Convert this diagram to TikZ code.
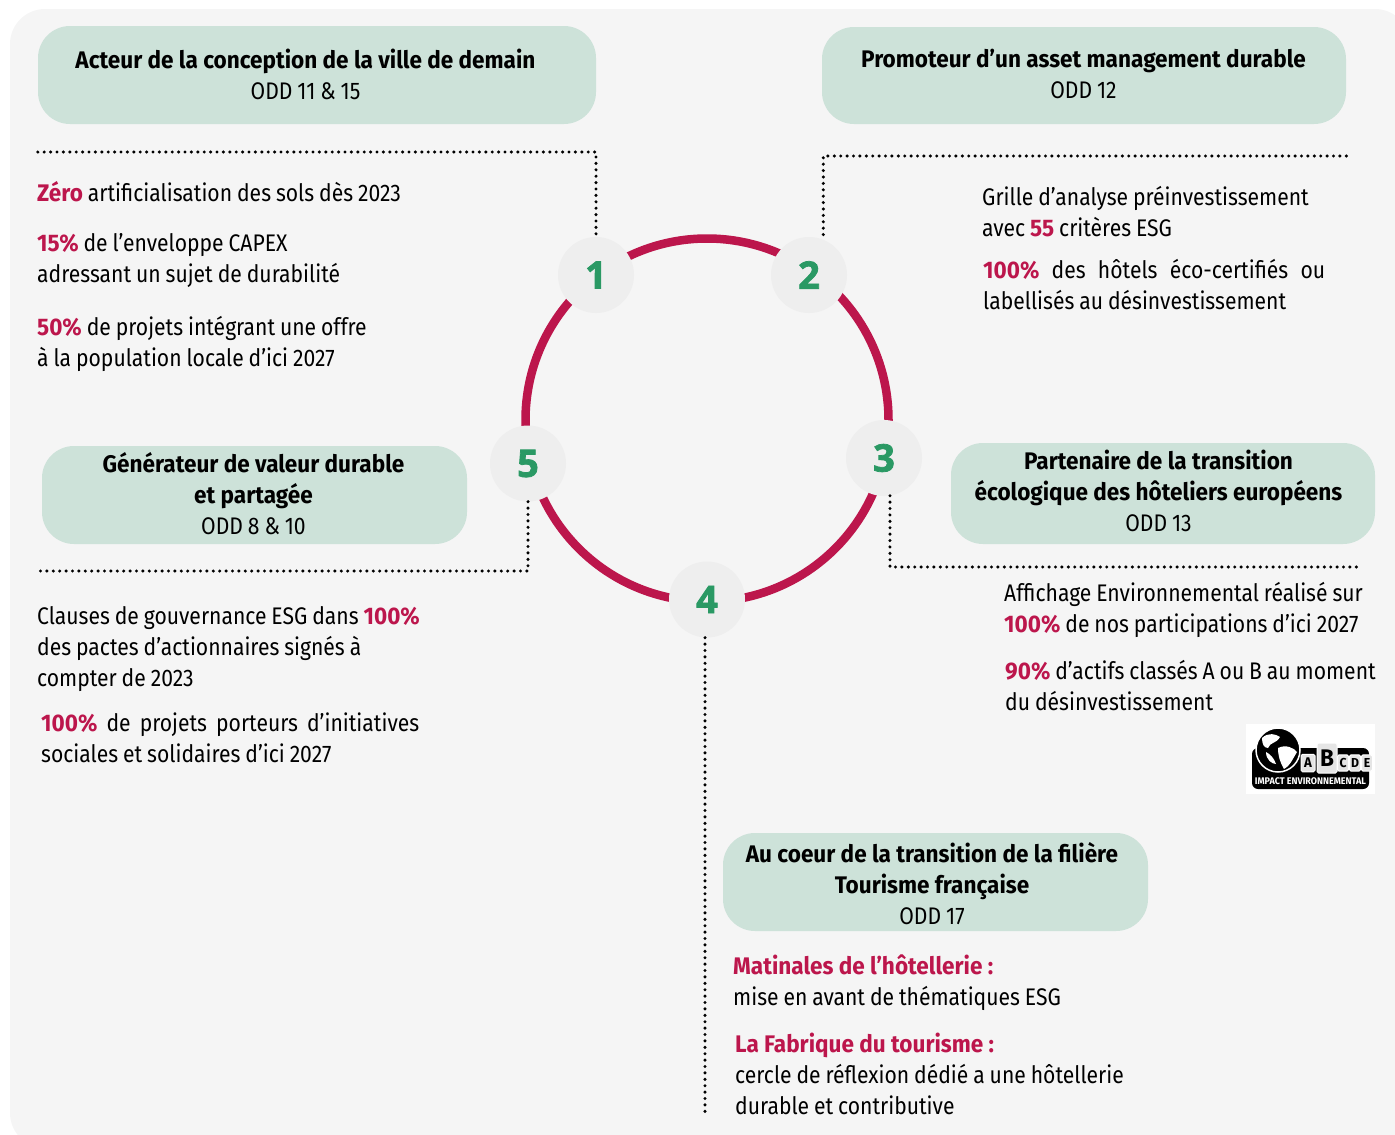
\documentclass[tikz,border=0pt]{standalone}
\usepackage{fontspec}
\setmainfont[FakeStretch=0.88,WordSpace=0.88,BoldFeatures={FakeStretch=0.94,WordSpace=1}]{Fira Sans}
\newfontfamily\numfont[BoldFeatures={FakeBold=2}]{Open Sans}
\definecolor{fondgris}{HTML}{F5F5F5}
\definecolor{vertpale}{HTML}{CDE2D9}
\definecolor{cramoisi}{HTML}{BC164C}
\definecolor{vertnum}{HTML}{2A9964}
\definecolor{grisrond}{HTML}{EEEEEE}
\newcommand{\rouge}[1]{\textcolor{cramoisi}{\textbf{#1}}}
\begin{document}
\begin{tikzpicture}[x=1pt,y=-1pt,
	titre/.style={fill=vertpale,rounded corners=32pt,inner sep=0pt},
	titretexte/.style={align=center,inner sep=0pt,font=\fontsize{24}{31}\selectfont},
	texte/.style={anchor=base west,align=left,inner sep=0pt,font=\fontsize{24}{31}\selectfont},
	rond/.style={circle,fill=grisrond,minimum size=76pt,inner sep=0pt,text=vertnum,font=\fontsize{38}{38}\numfont\bfseries},
	pointille/.style={line width=3.4pt,line cap=round,dash pattern=on 0pt off 6.4pt},
	anneau/.style={line width=8.5pt,color=cramoisi}]
	\useasboundingbox (0,0) rectangle (1395,1135);
	\fill[fondgris,rounded corners=35pt] (10,9) rectangle (1410,1148);
	\coordinate (centre) at (707,420);
	\draw[anneau] (centre) circle (181.5);
	\node[rond] (n1) at (596,275) {1};
	\node[rond] (n2) at (809,275) {2};
	\node[rond] (n3) at (884,458) {3};
	\node[rond] (n4) at (707,599.5) {4};
	\node[rond] (n5) at (528,463.5) {5};
	\node[titre,minimum width=558pt,minimum height=98pt] (t1) at (317,75) {};
	\node[titre,minimum width=524pt,minimum height=97pt] (t2) at (1084,75.5) {};
	\node[titre,minimum width=424pt,minimum height=101pt] (t3) at (1163,493.5) {};
	\node[titre,minimum width=425pt,minimum height=98pt] (t4) at (935.5,882) {};
	\node[titre,minimum width=425pt,minimum height=98pt] (t5) at (254.5,495) {};
	\node[titretexte] (tt1) at (305.5,74) {\textbf{Acteur de la conception de la ville de demain}\\ODD 11 \& 15};
	\node[titretexte] (tt2) at (1083.5,74) {\textbf{Promoteur d’un asset management durable}\\ODD 12};
	\node[titretexte] (tt3) at (1158.5,491) {\textbf{Partenaire de la transition}\\\textbf{écologique des hôteliers européens}\\ODD 13};
	\node[titretexte] (tt4) at (932,884) {\textbf{Au coeur de la transition de la filière}\\\textbf{Tourisme française}\\ODD 17};
	\node[titretexte] (tt5) at (253.5,494) {\textbf{Générateur de valeur durable}\\\textbf{et partagée}\\ODD 8 \& 10};
	\coordinate (c1) at (36,152);
	\coordinate (c2) at (1347,156);
	\coordinate (c3) at (1362,567);
	\coordinate (c4) at (705,1112);
	\coordinate (c5) at (36,571);
	\draw[pointille,shorten <=3pt] (n1.north) |- (c1);
	\draw[pointille,shorten <=5pt] (n2.68) |- (c2);
	\draw[pointille] (n3.-81) |- (c3);
	\draw[pointille] (n4.south -| c4) -- (c4);
	\draw[pointille] (n5.south) |- (c5);
	\node[texte] (a1) at (37,201) {\rouge{Zéro} artificialisation des sols dès 2023};
	\node[texte] (a2) at (37,282) {\rouge{15\%} de l’enveloppe CAPEX\\adressant un sujet de durabilité};
	\node[texte] (a3) at (37,366) {\rouge{50\%} de projets intégrant une offre\\à la population locale d’ici 2027};
	\node[texte] (b1) at (982,236) {Grille d’analyse préinvestissement\\avec \rouge{55} critères ESG};
	\node[texte] (b2) at (983,309) {\makebox[342pt][s]{\rouge{100\%} des hôtels éco-certifiés ou}\\labellisés au désinvestissement};
	\node[texte] (d1) at (1004,632) {Affichage Environnemental réalisé sur\\\rouge{100\%} de nos participations d’ici 2027};
	\node[texte] (d2) at (1005,710) {\rouge{90\%} d’actifs classés A ou B au moment\\du désinvestissement};
	\node[texte] (e1) at (733,1005) {\rouge{Matinales de l’hôtellerie :}\\mise en avant de thématiques ESG};
	\node[texte] (e2) at (735,1114) {\rouge{La Fabrique du tourisme :}\\cercle de réflexion dédié a une hôtellerie\\durable et contributive};
	\node[texte] (f1) at (37,686) {Clauses de gouvernance ESG dans \rouge{100\%}\\des pactes d’actionnaires signés à\\compter de 2023};
	\node[texte] (f2) at (41,762) {\makebox[378pt][s]{\rouge{100\%} de projets porteurs d’initiatives}\\sociales et solidaires d’ici 2027};
	% logo
	\fill[white] (1246,724) rectangle (1375,794);
	\fill[black,rounded corners=6pt] (1252,748) rectangle (1369,789);
	\filldraw[black,draw=white,line width=1.5pt] (1278,750) circle (22);
	\fill[white] (1262,738) .. controls (1268,732) and (1276,734) .. (1280,737) .. controls (1276,744) and (1270,742) .. (1268,748) .. controls (1264,748) and (1262,744) .. (1262,738);
	\fill[white] (1278,748) .. controls (1286,744) and (1294,748) .. (1297,752) .. controls (1292,760) and (1290,766) .. (1284,769) .. controls (1280,762) and (1278,756) .. (1278,748);
	\fill[white] (1266,752) .. controls (1270,754) and (1274,758) .. (1276,764) .. controls (1272,764) and (1266,760) .. (1266,752);
	\foreach \lettre/\xl/\yl/\tl/\wl in {A/1308/763/14/14,B/1327/758/24/20,C/1343/763/13/11,D/1355/763/13/11,E/1367/763/13/11}{
		\node[draw=white,fill=black!10,line width=1pt,rounded corners=1.5pt,text=black,inner sep=0pt,minimum width=\wl pt,minimum height=1.25*\tl pt,font=\fontsize{\tl}{\tl}\selectfont\bfseries] (l\lettre) at (\xl,\yl) {\lettre};
	}
	\node[text=white,inner sep=0pt,font=\fontsize{9.6}{9}\selectfont\bfseries] (lt) at (1310.5,781) {IMPACT ENVIRONNEMENTAL};
\end{tikzpicture}
\end{document}
